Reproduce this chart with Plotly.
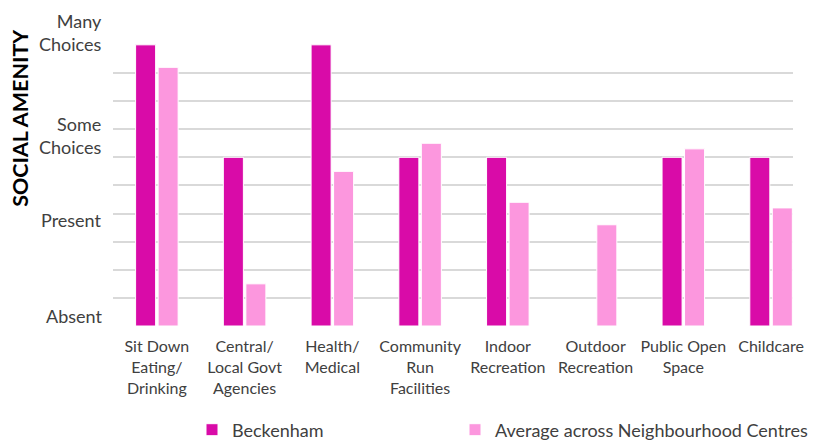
import plotly.graph_objects as go

categories = [
    "Sit Down<br>Eating/<br>Drinking",
    "Central/<br>Local Govt<br>Agencies",
    "Health/<br>Medical",
    "Community<br>Run<br>Facilities",
    "Indoor<br>Recreation",
    "Outdoor<br>Recreation",
    "Public Open<br>Space",
    "Childcare",
]
beckenham = [10, 6, 10, 6, 6, 0, 6, 6]
average = [9.2, 1.5, 5.5, 6.5, 4.4, 3.6, 6.3, 4.2]

level_labels = ["Many<br>Choices", "Some<br>Choices", "Present", "Absent"]
level_pos = [10.44, 6.79, 3.76, 0.35]

FONT = "Lato"
YMAX = 10.03
x = list(range(len(categories)))

fig = go.Figure()
fig.add_trace(go.Bar(x=x, y=beckenham, name="Beckenham", legend="legend",
                     showlegend=True,
                     marker=dict(color="#D90BA8", line=dict(color="white", width=1))))
fig.add_trace(go.Bar(x=x, y=average, name="Average across Neighbourhood Centres",
                     legend="legend2", showlegend=True,
                     marker=dict(color="#FC97DE", line=dict(color="white", width=1))))

# y-axis level labels, right aligned left of the plot
for lab, pos in zip(level_labels, level_pos):
    fig.add_annotation(text=lab, x=-0.0132, xref="paper", y=pos / YMAX, yref="paper",
                       xanchor="right", yanchor="middle",
                       align="right", showarrow=False,
                       font=dict(family=FONT, size=18, color="#404040"))

fig.add_annotation(text="<b>SOCIAL AMENITY</b>", textangle=-90,
                   x=-0.1368, xref="paper", y=0.738, yref="paper",
                   xanchor="center", yanchor="middle", showarrow=False,
                   font=dict(family=FONT, size=21.5, color="black"))

leg = dict(orientation="h", xref="container", xanchor="left", yref="container",
           yanchor="middle", y=1 - 422 / 435, itemwidth=30,
           font=dict(family=FONT, size=18, color="#404040"))

# page body adds an 8px offset, so the figure is 8px smaller each way
fig.update_layout(
    width=809, height=435, showlegend=True,
    margin=dict(l=105, r=24, t=36, b=117, autoexpand=False),
    paper_bgcolor="white", plot_bgcolor="white",
    barmode="group", bargap=0.487, bargroupgap=0.11,
    font=dict(family=FONT, size=16, color="#404040"),
    xaxis=dict(tickvals=x, ticktext=categories, range=[-0.5, 7.25], automargin=False,
               showgrid=False, showline=False, ticks="", tickfont=dict(size=16),
               ticklabelstandoff=9),
    yaxis=dict(range=[0, YMAX], dtick=1, showticklabels=False, gridcolor="#D9D9D9",
               gridwidth=2, zeroline=False, showline=False, automargin=False),
    legend=dict(leg, x=184 / 809),
    legend2=dict(leg, x=447 / 809),
)

fig.write_html("out.html")
